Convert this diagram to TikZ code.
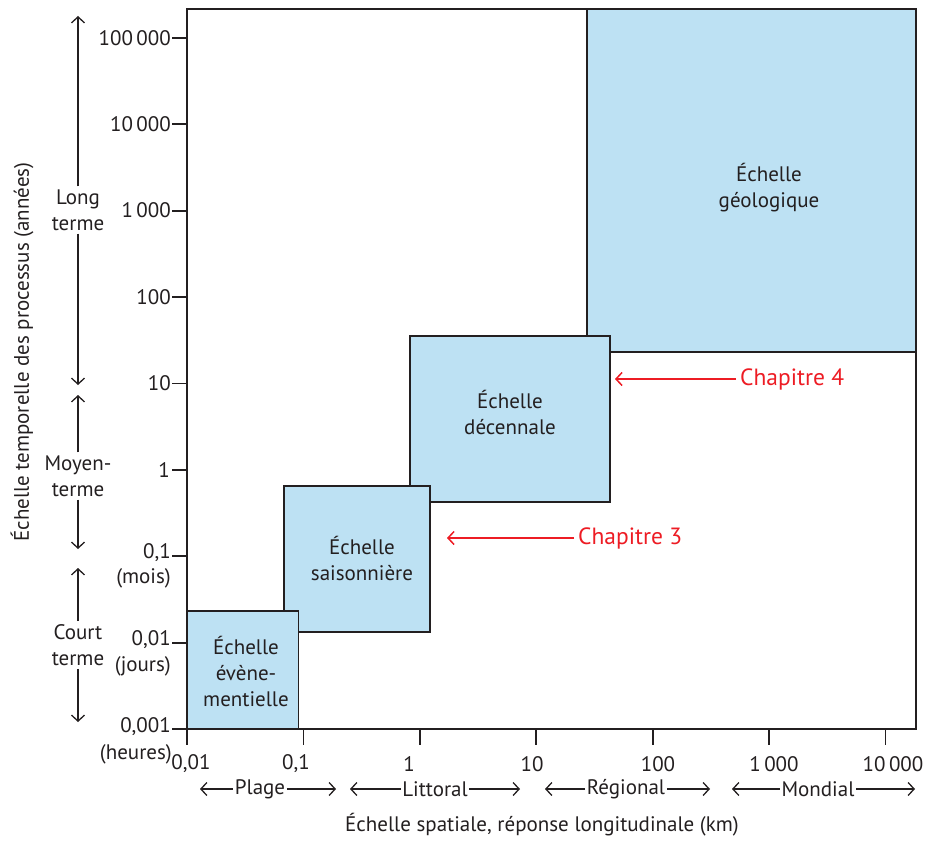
\documentclass[tikz,border=0pt]{standalone}
\usepackage{fontspec}
\setmainfont{PT Sans}
\usetikzlibrary{arrows.meta}
\definecolor{boxblue}{RGB}{189,225,243}
\definecolor{chapred}{RGB}{237,28,36}
\definecolor{ink}{RGB}{35,31,32}
\begin{document}
\begin{tikzpicture}[x=1pt,y=-1pt,
  font=\fontsize{21}{26}\selectfont,
  scalebox/.style={draw=ink,line width=1.6pt,fill=boxblue},
  lbl/.style={align=center,text=ink,inner sep=0pt},
  axisline/.style={draw=ink,line width=1.8pt},
  tickline/.style={draw=ink,line width=1.8pt},
  ticklbl/.style={text=ink,inner sep=0pt},
  termlbl/.style={align=center,text=ink,inner sep=3pt},
  rangelbl/.style={text=ink,inner sep=1.5pt},
  rangearrow/.style={draw=ink,line width=1.3pt,-{Straight Barb[length=6pt,width=13pt]}},
  chaplbl/.style={text=chapred,inner sep=4pt,anchor=west,font=\fontsize{23.5}{28}\selectfont},
  chaparrow/.style={draw=chapred,line width=1.5pt,-{Straight Barb[length=6pt,width=13pt]}}
]
\useasboundingbox (0,0) rectangle (930,843);

% scale boxes (drawn in this order for overlaps)
\draw[scalebox] (587,9) rectangle (916,352);
\draw[scalebox] (410,336) rectangle (610,502);
\draw[scalebox] (284,486) rectangle (430,632);
\draw[scalebox] (187,611) rectangle (298.5,729);

\node[lbl] (geo) at (769,188) {Échelle\\géologique};
\node[lbl] (dec) at (510,412) {Échelle\\décennale};
\node[lbl] (sai) at (362,558) {Échelle\\saisonnière};
\node[lbl] (eve) at (246,671) {Échelle\\évène-\\mentielle};

% frame
\draw[axisline] (187,9) rectangle (916,729);

% y ticks
\foreach \k in {0,...,8}{
  \draw[tickline] (172,{729-86.4*\k}) -- (187,{729-86.4*\k});
}
\node[ticklbl,anchor=east] (y5) at (171,37.8) {100\,000};
\node[ticklbl,anchor=east] (y4) at (171,124.2) {10\,000};
\node[ticklbl,anchor=east] (y3) at (171,210.6) {1\,000};
\node[ticklbl,anchor=east] (y2) at (171,297) {100};
\node[ticklbl,anchor=east] (y1) at (171,383.4) {10};
\node[ticklbl,anchor=east] (y0) at (170,469.8) {1};
\node[ticklbl,anchor=east] (ym1) at (171,553) {0,1};
\node[ticklbl,anchor=east] (ym1b) at (171,578) {(mois)};
\node[ticklbl,anchor=east] (ym2) at (171,640) {0,01};
\node[ticklbl,anchor=east] (ym2b) at (171,666) {(jours)};
\node[ticklbl,anchor=east] (ym3) at (171,727) {0,001};
\node[ticklbl,anchor=east] (ym3b) at (172,754) {(heures)};

% x ticks
\foreach \k in {0,...,6}{
  \draw[tickline] ({187+116.4*\k},729) -- ({187+116.4*\k},745);
}
\node[ticklbl] (x0) at (191,764) {0,01};
\node[ticklbl] (x1) at (296,764) {0,1};
\node[ticklbl] (x2) at (409,764) {1};
\node[ticklbl] (x3) at (532,764) {10};
\node[ticklbl] (x4) at (658,764) {100};
\node[ticklbl] (x5) at (774,764) {1\,000};
\node[ticklbl] (x6) at (893,764) {10\,000};

% spatial ranges
\node[rangelbl] (plage) at (260,789) {Plage};
\node[rangelbl] (litt) at (435,789) {Littoral};
\node[rangelbl] (regi) at (626,789) {Régional};
\node[rangelbl] (mond) at (818,789) {Mondial};
\coordinate (pl1) at (200,790); \coordinate (pl2) at (336,790);
\coordinate (li1) at (350,790); \coordinate (li2) at (520,790);
\coordinate (re1) at (545,790); \coordinate (re2) at (710,790);
\coordinate (mo1) at (732,790); \coordinate (mo2) at (915,790);
\draw[rangearrow] (plage.west) -- (pl1 |- plage.west);
\draw[rangearrow] (plage.east) -- (pl2 |- plage.east);
\draw[rangearrow] (litt.west) -- (li1 |- litt.west);
\draw[rangearrow] (litt.east) -- (li2 |- litt.east);
\draw[rangearrow] (regi.west) -- (re1 |- regi.west);
\draw[rangearrow] (regi.east) -- (re2 |- regi.east);
\draw[rangearrow] (mond.west) -- (mo1 |- mond.west);
\draw[rangearrow] (mond.east) -- (mo2 |- mond.east);

\node[text=ink,inner sep=0pt] (xtitle) at (542,825) {Échelle spatiale, réponse longitudinale (km)};

% temporal ranges
\node[termlbl] (long) at (78,210) {Long\\terme};
\node[termlbl] (moyen) at (78,476) {Moyen-\\terme};
\node[termlbl] (court) at (78,645) {Court\\terme};
\coordinate (lt1) at (78,16); \coordinate (lt2) at (78,385);
\coordinate (mt1) at (78,395); \coordinate (mt2) at (78,549);
\coordinate (ct1) at (78,568); \coordinate (ct2) at (78,722);
\draw[rangearrow] (long.north) -- (lt1);
\draw[rangearrow] (long.south) -- (lt2);
\draw[rangearrow] (moyen.north) -- (mt1);
\draw[rangearrow] (moyen.south) -- (mt2);
\draw[rangearrow] (court.north) -- (ct1);
\draw[rangearrow] (court.south) -- (ct2);

\node[text=ink,inner sep=0pt,rotate=90] (ytitle) at (22,352) {Échelle temporelle des processus (années)};

% chapters
\node[chaplbl] (ch4) at (736,379) {Chapitre 4};
\node[chaplbl] (ch3) at (574,538) {Chapitre 3};
\coordinate (c4) at (615,379);
\coordinate (c3) at (447,538);
\draw[chaparrow] (ch4.west) -- (c4 |- ch4.west);
\draw[chaparrow] (ch3.west) -- (c3 |- ch3.west);
\end{tikzpicture}
\end{document}
